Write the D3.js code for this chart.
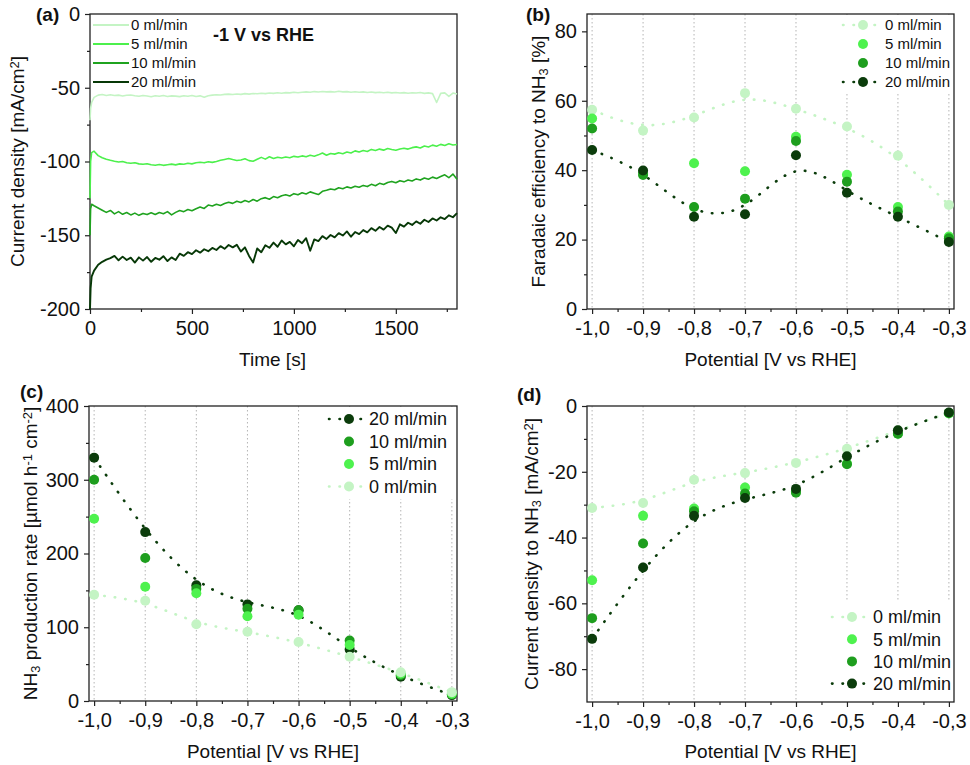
<!DOCTYPE html>
<html>
<head>
<meta charset="utf-8">
<script src="https://cdn.jsdelivr.net/npm/d3@7"></script>
<style>
  body { margin: 0; background: #fff; }
  text { font-family: Arial, "Liberation Sans", sans-serif; fill: #111; }
</style>
</head>
<body>
<svg id="fig" width="970" height="765"></svg>
<script>
'use strict';

// ---- data -----------------------------------------------------------------
var flowLabels = [ '0 ml/min', '5 ml/min', '10 ml/min', '20 ml/min' ];

// (a) chronoamperometry at -1 V vs RHE
var timeS = [ 0, 3, 8, 20, 40, 60, 80, 100, 120, 140,
  160, 180, 200, 220, 240, 260, 280, 300, 320, 340,
  360, 380, 400, 420, 440, 460, 480, 500, 520, 540,
  560, 580, 600, 620, 640, 660, 680, 700, 720, 740,
  760, 780, 800, 820, 840, 860, 880, 900, 920, 940,
  960, 980, 1000, 1020, 1040, 1060, 1080, 1100, 1120, 1140,
  1160, 1180, 1200, 1220, 1240, 1260, 1280, 1300, 1320, 1340,
  1360, 1380, 1400, 1420, 1440, 1460, 1480, 1500, 1520, 1540,
  1560, 1580, 1600, 1620, 1640, 1660, 1680, 1700, 1720, 1740,
  1760, 1780, 1800 ];

var j0 = [ -72, -64, -60, -56.5, -55, -54.6, -55.2, -54.8, -55.3, -55.0,
  -55.6, -55.1, -54.9, -55.4, -55.8, -55.2, -55.6, -56.1, -55.4, -55.8,
  -55.3, -55.9, -55.5, -55.7, -56.0, -55.4, -55.8, -55.3, -55.9, -55.5,
  -56.4, -55.4, -55.0, -54.7, -54.9, -54.5, -54.3, -54.6, -54.2, -54.5,
  -54.0, -54.3, -53.9, -54.1, -53.7, -54.0, -53.6, -53.8, -53.4, -53.7,
  -53.3, -53.5, -53.1, -53.4, -53.0, -52.8, -53.1, -52.6, -52.9, -52.5,
  -52.8, -52.6, -52.9, -52.4, -52.8, -52.6, -53.0, -52.7, -53.1, -52.8,
  -53.2, -52.9, -53.3, -53.0, -53.4, -53.1, -53.5, -53.2, -53.6, -53.3,
  -53.7, -53.4, -53.6, -53.2, -53.8, -53.5, -54.0, -60.0, -53.8, -53.5,
  -55.8, -53.6, -54.2 ];

var j5 = [ -125, -100, -94, -93, -96, -97.5, -98.5, -99.2, -99.8, -100.3,
  -100.0, -100.8, -101.2, -100.9, -101.6, -101.9, -101.5, -102.2, -102.5, -102.0,
  -102.6, -102.2, -101.8, -102.3, -101.6, -101.9, -101.2, -101.6, -100.9, -100.5,
  -100.9, -100.2, -100.6, -100.0, -99.2, -98.6, -98.0, -98.7, -99.3, -99.0,
  -98.2, -99.4, -99.8, -98.5, -97.2, -98.4, -96.8, -98.0, -97.1, -97.6,
  -96.9, -97.4, -96.5, -97.0, -96.2, -96.8, -95.8, -96.4, -95.5, -94.2,
  -95.8, -94.6, -95.0, -94.1, -94.7, -93.6, -94.2, -92.8, -93.5, -92.6,
  -93.2, -91.8, -92.5, -91.6, -92.3, -91.2, -91.9, -92.4, -91.5, -91.0,
  -91.6, -90.6, -90.1, -90.8, -89.5, -90.2, -88.9, -89.6, -88.4, -89.2,
  -88.0, -88.8, -88.5 ];

var j10 = [ -150, -132, -129, -130, -131.5, -133, -134.5, -133.2, -135.5, -134.0,
  -135.8, -134.6, -136.2, -135.0, -136.5, -135.2, -136.0, -134.8, -135.9, -134.6,
  -135.4, -134.0, -136.2, -134.5, -133.2, -134.0, -132.5, -133.4, -132.0, -130.8,
  -131.8, -129.5, -130.2, -129.0, -129.8, -128.5, -127.6, -128.4, -127.0, -127.8,
  -126.5, -127.4, -125.8, -126.9, -125.2, -124.5, -125.6, -123.8, -124.6, -123.2,
  -122.5, -123.4, -121.8, -122.6, -121.2, -122.0, -120.6, -121.5, -122.4, -120.2,
  -119.5, -118.6, -119.2, -117.8, -118.5, -117.2, -118.0, -116.8, -117.5, -116.2,
  -117.0, -115.5, -116.4, -114.8, -115.6, -114.2, -113.5, -114.4, -113.0, -113.8,
  -112.5, -113.2, -111.8, -112.6, -111.2, -112.0, -110.6, -111.5, -110.2, -109.0,
  -111.0, -108.5, -112 ];

var j20 = [ -200, -186, -178, -174, -170, -168, -166.5, -165.5, -164.0, -167.0,
  -164.5, -166.8, -165.2, -168.5, -165.0, -167.2, -164.8, -168.0, -165.4, -166.6,
  -164.2, -167.5, -165.0, -166.8, -162.5, -164.0, -161.5, -162.8, -160.2, -161.8,
  -159.5, -160.8, -158.6, -160.0, -157.4, -159.2, -156.6, -158.2, -156.5, -161.0,
  -158.2, -164.0, -168.5, -159.0, -161.5, -156.8, -158.5, -155.0, -157.8, -153.6,
  -156.2, -154.5, -157.5, -153.2, -155.4, -152.0, -160.5, -152.8, -154.0, -150.6,
  -152.5, -149.8, -151.4, -148.6, -150.2, -147.4, -151.0, -147.8, -149.2, -146.5,
  -148.0, -145.2, -147.0, -144.4, -146.2, -143.5, -144.8, -148.5, -142.6, -144.2,
  -141.5, -143.0, -140.6, -142.2, -139.5, -141.0, -138.6, -140.0, -137.8, -139.0,
  -136.5, -137.8, -135.0 ];

// (b)-(d) versus potential
var potentials = [ -1.0, -0.9, -0.8, -0.7, -0.6, -0.5, -0.4, -0.3 ];

var fe0  = [ 57.4, 51.4, 55.2, 62.2, 57.7, 52.6, 44.2, 30.0 ];
var fe5  = [ 54.9, 39.0, 42.0, 39.7, 49.6, 38.7, 29.4, 20.9 ];
var fe10 = [ 52.0, 38.6, 29.4, 31.8, 48.4, 36.7, 28.1, 20.4 ];
var fe20 = [ 45.8, 39.9, 26.6, 27.3, 44.3, 33.5, 26.6, 19.3 ];

var rate0  = [ 144, 136, 104, 94, 80, 60, 39, 12 ];
var rate5  = [ 247, 155, 146, 115, 117, 76, 37, 10 ];
var rate10 = [ 300, 194, 152, 125, 123, 82, 35, 9 ];
var rate20 = [ 330, 229, 157, 131, 123, 70, 33, 8 ];

var cd0  = [ -31.0, -29.5, -22.4, -20.4, -17.3, -13.0, -7.4, -2.1 ];
var cd5  = [ -53.0, -33.4, -31.2, -24.8, -25.9, -17.5, -8.4, -2.3 ];
var cd10 = [ -64.5, -41.8, -32.0, -26.6, -26.4, -17.7, -8.4, -2.1 ];
var cd20 = [ -70.8, -49.1, -33.4, -28.0, -25.2, -15.3, -7.4, -2.0 ];

var potTicks      = [ -1.0, -0.9, -0.8, -0.7, -0.6, -0.5, -0.4, -0.3 ];
var potMinorTicks = [ -0.95, -0.85, -0.75, -0.65, -0.55, -0.45, -0.35 ];

// ---- styles ---------------------------------------------------------------
var colors     = [ '#c4f4c4', '#4ef24e', '#1e9e1e', '#0b3c0b' ],
    lineColors = [ '#c4f4c4', '#4cf04c', '#1fa31f', '#073807' ],
    frameColor = '#222',
    gridColor  = '#b4b4b4',
    markerR    = 5;

var svg = d3.select( '#fig' );

function commaFmt( d ) {
  return d.toFixed( 1 ).replace( '.', ',' );
}

function plainFmt( d ) {
  return String( d );
}

// Text with sub/superscripts: parts = [ [ 'text', 'sub'|'sup'|undefined ], ... ]
function richText( sel, parts ) {
  parts.forEach(function( p ) {
    var t = sel.append( 'tspan' ).text( p[ 0 ] );
    if ( p[ 1 ] ) {
      t.attr( 'baseline-shift', p[ 1 ] === 'sub' ? '-25%' : '40%' )
       .style( 'font-size', '68%' );
    }
  });
  return sel;
}

function makePanel( box, xDomain, yDomain ) {
  return {
    box: box,
    g: svg.append( 'g' ),
    x: d3.scaleLinear().domain( xDomain ).range([ box.x0, box.x1 ]),
    y: d3.scaleLinear().domain( yDomain ).range([ box.y1, box.y0 ])
  };
}

function drawGrid( p, ticks ) {
  p.g.append( 'g' ).selectAll( 'line' )
    .data( ticks )
    .enter().append( 'line' )
      .attr( 'x1', p.x ).attr( 'x2', p.x )
      .attr( 'y1', p.box.y0 ).attr( 'y2', p.box.y1 )
      .attr( 'stroke', gridColor )
      .attr( 'stroke-width', 1 )
      .attr( 'stroke-dasharray', '1.5,2.5' );
}

function drawAxes( p, o ) {
  var b = p.box;
  // minor ticks first, no labels
  p.g.append( 'g' )
    .attr( 'transform', 'translate(0,' + b.y1 + ')' )
    .call( d3.axisBottom( p.x ).tickValues( o.xMinor ).tickSize( 3 ).tickFormat( '' ).tickSizeOuter( 0 ) );
  p.g.append( 'g' )
    .attr( 'transform', 'translate(' + b.x0 + ',0)' )
    .call( d3.axisLeft( p.y ).tickValues( o.yMinor ).tickSize( 3 ).tickFormat( '' ).tickSizeOuter( 0 ) );

  p.g.append( 'g' )
    .attr( 'transform', 'translate(0,' + b.y1 + ')' )
    .call( d3.axisBottom( p.x ).tickValues( o.xMajor ).tickSize( 5 ).tickPadding( 7 )
      .tickFormat( o.xFmt ).tickSizeOuter( 0 ) );
  p.g.append( 'g' )
    .attr( 'transform', 'translate(' + b.x0 + ',0)' )
    .call( d3.axisLeft( p.y ).tickValues( o.yMajor ).tickSize( 5 ).tickPadding( 5 )
      .tickFormat( plainFmt ).tickSizeOuter( 0 ) );

  p.g.selectAll( '.domain' ).remove();
  p.g.selectAll( '.tick line' ).attr( 'stroke', frameColor ).attr( 'stroke-width', 1.2 );
  p.g.selectAll( '.tick text' )
    .style( 'font-size', '20px' )
    .style( 'font-family', 'Arial, "Liberation Sans", sans-serif' )
    .attr( 'fill', '#111' );

  p.g.append( 'rect' )
    .attr( 'x', b.x0 ).attr( 'y', b.y0 )
    .attr( 'width', b.x1 - b.x0 ).attr( 'height', b.y1 - b.y0 )
    .attr( 'fill', 'none' )
    .attr( 'stroke', frameColor )
    .attr( 'stroke-width', 1.3 );

  // x title
  richText( p.g.append( 'text' )
    .attr( 'x', ( b.x0 + b.x1 ) / 2 + o.xTitleDx )
    .attr( 'y', o.xTitleY )
    .attr( 'text-anchor', 'middle' )
    .style( 'font-size', '19px' ), o.xTitle );

  // y title
  richText( p.g.append( 'text' )
    .attr( 'transform', 'translate(' + o.yTitleX + ',' + ( b.y0 + b.y1 ) / 2 + ') rotate(-90)' )
    .attr( 'text-anchor', 'middle' )
    .style( 'font-size', '19px' ), o.yTitle );

  // panel letter
  p.g.append( 'text' )
    .attr( 'x', o.letterX ).attr( 'y', o.letterY )
    .style( 'font-size', '19px' )
    .style( 'font-weight', 'bold' )
    .text( o.letter );
}

function fitLine( p, values, color ) {
  var line = d3.line()
    .x(function( d, i ) { return p.x( potentials[ i ] ); })
    .y(function( d ) { return p.y( d ); })
    .curve( d3.curveBasis );
  p.g.append( 'path' )
    .datum( values )
    .attr( 'd', line )
    .attr( 'fill', 'none' )
    .attr( 'stroke', color )
    .attr( 'stroke-width', 2.6 )
    .attr( 'stroke-linecap', 'round' )
    .attr( 'stroke-dasharray', '0.5,10' );
}

function dots( p, values, color ) {
  p.g.append( 'g' ).selectAll( 'circle' )
    .data( values )
    .enter().append( 'circle' )
      .attr( 'cx', function( d, i ) { return p.x( potentials[ i ] ); })
      .attr( 'cy', p.y )
      .attr( 'r', markerR )
      .attr( 'fill', color );
}

function scatterLegend( p, L ) {
  p.g.append( 'rect' )
    .attr( 'x', L.bg[ 0 ] ).attr( 'y', L.bg[ 1 ] )
    .attr( 'width', L.bg[ 2 ] ).attr( 'height', L.bg[ 3 ] )
    .attr( 'fill', '#fff' );
  L.order.forEach(function( k, row ) {
    var y = L.y0 + row * L.dy;
    if ( L.fits.indexOf( k ) >= 0 ) {
      p.g.append( 'line' )
        .attr( 'x1', L.mx - 20 ).attr( 'x2', L.mx + 20 )
        .attr( 'y1', y ).attr( 'y2', y )
        .attr( 'stroke', colors[ k ] )
        .attr( 'stroke-width', 2.6 )
        .attr( 'stroke-linecap', 'round' )
        .attr( 'stroke-dasharray', '0.5,10' );
    }
    p.g.append( 'circle' )
      .attr( 'cx', L.mx ).attr( 'cy', y )
      .attr( 'r', markerR )
      .attr( 'fill', colors[ k ] );
    p.g.append( 'text' )
      .attr( 'x', L.tx ).attr( 'y', y )
      .attr( 'dy', '0.36em' )
      .style( 'font-size', L.size )
      .text( flowLabels[ k ] );
  });
}

// ---- (a) ------------------------------------------------------------------
var pa = makePanel( { x0: 90, x1: 457, y0: 14, y1: 309 }, [ 0, 1800 ], [ -200, 0 ] );
drawAxes( pa, {
  xMajor: [ 0, 500, 1000, 1500 ], xMinor: [ 250, 750, 1250, 1750 ],
  yMajor: [ -200, -150, -100, -50, 0 ], yMinor: [ -175, -125, -75, -25 ],
  xFmt: plainFmt,
  xTitle: [ [ 'Time [s]' ] ], xTitleDx: -1, xTitleY: 366,
  yTitle: [ [ 'Current density [mA/cm' ], [ '2', 'sup' ], [ ']' ] ], yTitleX: 24,
  letter: '(a)', letterX: 36, letterY: 21
});

var traces = [ j0, j5, j10, j20 ];
var traceLine = d3.line()
  .x(function( d, i ) { return pa.x( timeS[ i ] ); })
  .y(function( d ) { return pa.y( d ); });

traces.forEach(function( s, k ) {
  pa.g.append( 'path' )
    .datum( s )
    .attr( 'd', traceLine )
    .attr( 'fill', 'none' )
    .attr( 'stroke', lineColors[ k ] )
    .attr( 'stroke-width', k === 3 ? 1.9 : 1.6 )
    .attr( 'stroke-linejoin', 'round' );
});

flowLabels.forEach(function( lab, k ) {
  var y = 25 + k * 19;
  pa.g.append( 'line' )
    .attr( 'x1', 93 ).attr( 'x2', 129 )
    .attr( 'y1', y ).attr( 'y2', y )
    .attr( 'stroke', lineColors[ k ] )
    .attr( 'stroke-width', 2 );
  pa.g.append( 'text' )
    .attr( 'x', 131 ).attr( 'y', y )
    .attr( 'dy', '0.36em' )
    .style( 'font-size', '15px' )
    .text( lab );
});

pa.g.append( 'text' )
  .attr( 'x', 213 ).attr( 'y', 41 )
  .style( 'font-size', '18px' )
  .style( 'font-weight', 'bold' )
  .text( '-1 V vs RHE' );

// ---- (b) ------------------------------------------------------------------
var pb = makePanel( { x0: 587, x1: 954, y0: 14, y1: 309 }, [ -1.01, -0.29 ], [ 0, 85 ] );
drawGrid( pb, potTicks );
drawAxes( pb, {
  xMajor: potTicks, xMinor: potMinorTicks,
  yMajor: [ 0, 20, 40, 60, 80 ], yMinor: [ 10, 30, 50, 70 ],
  xFmt: commaFmt,
  xTitle: [ [ 'Potential [V vs RHE]' ] ], xTitleDx: 0, xTitleY: 366,
  yTitle: [ [ 'Faradaic efficiency to NH' ], [ '3', 'sub' ], [ ' [%]' ] ], yTitleX: 545,
  letter: '(b)', letterX: 526, letterY: 21
});
fitLine( pb, fe0, colors[ 0 ] );
fitLine( pb, fe20, colors[ 3 ] );
scatterLegend( pb, { bg: [ 838, 15, 115, 78 ], order: [ 0, 1, 2, 3 ], fits: [ 0, 3 ],
  mx: 863, tx: 885, y0: 25, dy: 19, size: '15px' } );
[ fe0, fe5, fe10, fe20 ].forEach(function( s, k ) { dots( pb, s, colors[ k ] ); });

// ---- (c) ------------------------------------------------------------------
var pc = makePanel( { x0: 89, x1: 457, y0: 406, y1: 701 }, [ -1.01, -0.29 ], [ 0, 400 ] );
drawGrid( pc, potTicks );
drawAxes( pc, {
  xMajor: potTicks, xMinor: potMinorTicks,
  yMajor: [ 0, 100, 200, 300, 400 ], yMinor: [ 50, 150, 250, 350 ],
  xFmt: commaFmt,
  xTitle: [ [ 'Potential [V vs RHE]' ] ], xTitleDx: 0, xTitleY: 758,
  yTitle: [ [ 'NH' ], [ '3', 'sub' ], [ ' production rate [\u00b5mol h' ], [ '-1', 'sup' ],
            [ ' cm' ], [ '-2', 'sup' ], [ ']' ] ], yTitleX: 37,
  letter: '(c)', letterX: 20, letterY: 398
});
fitLine( pc, rate20, colors[ 3 ] );
fitLine( pc, rate0, colors[ 0 ] );
scatterLegend( pc, { bg: [ 322, 407, 134, 92 ], order: [ 3, 2, 1, 0 ], fits: [ 3, 0 ],
  mx: 349, tx: 369, y0: 419, dy: 22.5, size: '18px' } );
[ rate20, rate10, rate5, rate0 ].forEach(function( s, k ) { dots( pc, s, colors[ 3 - k ] ); });

// ---- (d) ------------------------------------------------------------------
var pd = makePanel( { x0: 587, x1: 954, y0: 406, y1: 702 }, [ -1.01, -0.29 ], [ -90, 0 ] );
drawGrid( pd, potTicks );
drawAxes( pd, {
  xMajor: potTicks, xMinor: potMinorTicks,
  yMajor: [ -80, -60, -40, -20, 0 ], yMinor: [ -70, -50, -30, -10 ],
  xFmt: commaFmt,
  xTitle: [ [ 'Potential [V vs RHE]' ] ], xTitleDx: 0, xTitleY: 758,
  yTitle: [ [ 'Current density to NH' ], [ '3', 'sub' ], [ ' [mA/cm' ], [ '2', 'sup' ], [ ']' ] ],
  yTitleX: 538,
  letter: '(d)', letterX: 517, letterY: 401
});
fitLine( pd, cd0, colors[ 0 ] );
fitLine( pd, cd20, colors[ 3 ] );
scatterLegend( pd, { bg: [ 826, 600, 127, 101 ], order: [ 0, 1, 2, 3 ], fits: [ 0, 3 ],
  mx: 852, tx: 873, y0: 617, dy: 22.2, size: '18px' } );
[ cd0, cd5, cd10, cd20 ].forEach(function( s, k ) { dots( pd, s, colors[ k ] ); });
</script>
</body>
</html>
